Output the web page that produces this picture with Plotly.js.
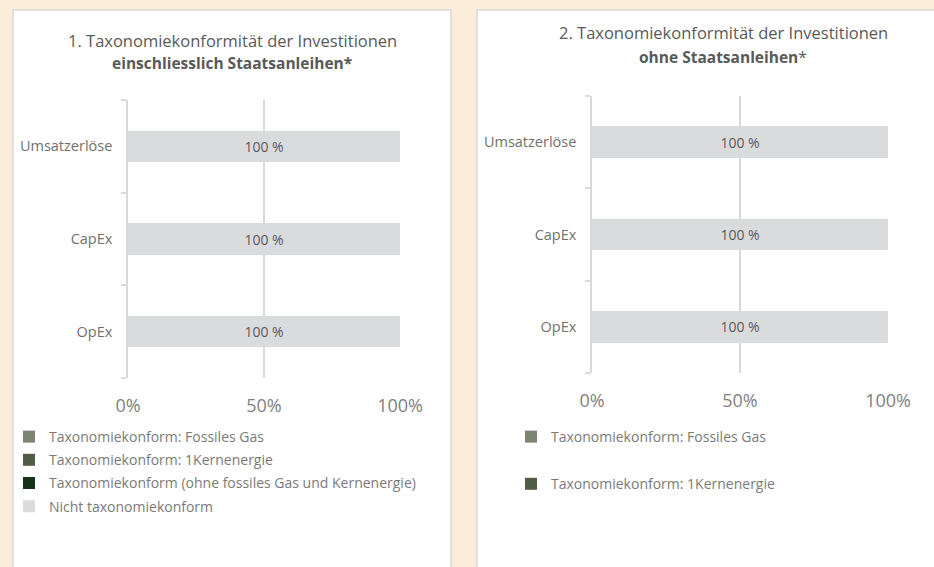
<!DOCTYPE html>
<html>
<head>
<meta charset="utf-8">
<script src="https://cdn.plot.ly/plotly-3.0.1.min.js"></script>
<style>
html,body{margin:0;padding:0;background:#FBEBD9;}
#chart{width:934px;height:567px;}
</style>
</head>
<body>
<div id="chart"></div>
<script>
// ---- data ----
const categories = ['Umsatzerlöse', 'CapEx', 'OpEx'];
const seriesNames = [
  'Taxonomiekonform: Fossiles Gas',
  'Taxonomiekonform: 1Kernenergie',
  'Taxonomiekonform (ohne fossiles Gas und Kernenergie)',
  'Nicht taxonomiekonform'
];
// Chart 1: including sovereign bonds (values in %)
const fossilGas1 = [0, 0, 0];
const nuclear1 = [0, 0, 0];
const aligned1 = [0, 0, 0];
const notAligned1 = [100, 100, 100];
// Chart 2: excluding sovereign bonds (values in %)
const fossilGas2 = [0, 0, 0];
const nuclear2 = [0, 0, 0];
const aligned2 = [0, 0, 0];
const notAligned2 = [100, 100, 100];
const xTickVals = [0, 50, 100];
const xTickText = ['0%', '50%', '100%'];
const title1a = '1. Taxonomiekonformität der Investitionen';
const title1b = 'einschliesslich Staatsanleihen*';
const title2a = '2. Taxonomiekonformität der Investitionen';
const title2b = 'ohne Staatsanleihen';

// ---- styles ----
const colors = ['#7b8571', '#505c46', '#17321b', '#dadbdd'];
const W = 934, H = 567;
const px = v => v / W;
const py = v => 1 - v / H;
const FONT = 'Open Sans, sans-serif';

function makeTraces(vals, xa, ya, legendId, legendShow) {
  return vals.map((v, i) => {
    const isLast = i === vals.length - 1;
    return {
      type: 'bar', orientation: 'h',
      name: seriesNames[i],
      x: v, y: categories,
      xaxis: xa, yaxis: ya,
      marker: {color: colors[i]},
      legend: legendId,
      legendgroup: legendId + '_' + i,
      showlegend: legendShow[i],
      text: isLast ? v.map(String) : undefined,
      texttemplate: isLast ? '%{text} %' : undefined,
      textposition: isLast ? 'inside' : 'none',
      insidetextanchor: 'middle',
      textfont: {family: FONT, size: 14, color: '#595959'},
      hoverinfo: 'name+x'
    };
  });
}

const traces = [
  ...makeTraces([fossilGas1, nuclear1, aligned1, notAligned1], 'x', 'y', 'legend', [true, true, true, true]),
  ...makeTraces([fossilGas2, nuclear2, aligned2, notAligned2], 'x2', 'y2', 'legend2', [true, true, false, false])
];

function xAxis(domain, anchor) {
  return {
    domain: domain, anchor: anchor, range: [0, 100], fixedrange: true,
    tickvals: xTickVals, ticktext: xTickText,
    showgrid: true, gridcolor: '#d9d9d9', gridwidth: 1.5,
    zeroline: false, showline: false, ticks: '',
    ticklabelstandoff: 15,
    tickfont: {family: FONT, size: 18, color: '#7f7f7f'}
  };
}
function yAxis(domain, anchor) {
  return {
    domain: domain, anchor: anchor, type: 'category',
    categoryorder: 'array', categoryarray: categories.slice().reverse(),
    tickson: 'boundaries', ticks: 'outside', ticklen: 5, tickcolor: '#d9d9d9', tickwidth: 1.5,
    showline: true, linecolor: '#d9d9d9', linewidth: 1.5,
    showgrid: false, zeroline: false, fixedrange: true,
    ticklabelstandoff: 11,
    tickfont: {family: FONT, size: 14.5, color: '#707070'}
  };
}

function titleAnn(x, y, text, size) {
  return {xref: 'paper', yref: 'paper', x: px(x), y: py(y), xanchor: 'center', yanchor: 'middle',
          showarrow: false, text: text, font: {family: FONT, size: size, color: '#595959'}};
}

const layout = {
  width: W, height: H,
  margin: {l: 0, r: 0, t: 0, b: 0},
  paper_bgcolor: '#FBEBD9', plot_bgcolor: 'rgba(0,0,0,0)',
  barmode: 'stack', bargap: 0.66,
  xaxis: xAxis([px(128), px(400)], 'y'),
  yaxis: yAxis([py(378), py(100)], 'x'),
  xaxis2: xAxis([px(592), px(888)], 'y2'),
  yaxis2: yAxis([py(373), py(96)], 'x2'),
  shapes: [
    {type: 'rect', xref: 'paper', yref: 'paper', layer: 'below',
     x0: px(13), x1: px(451), y0: -0.05, y1: py(10),
     fillcolor: '#ffffff', line: {color: '#d9d9d9', width: 1.5}},
    {type: 'rect', xref: 'paper', yref: 'paper', layer: 'below',
     x0: px(477), x1: 1.05, y0: -0.05, y1: py(10),
     fillcolor: '#ffffff', line: {color: '#d9d9d9', width: 1.5}}
  ],
  annotations: [
    titleAnn(232, 40, title1a, 16.5),
    titleAnn(232, 63, '<b>' + title1b + '</b>', 15.5),
    titleAnn(723, 33, title2a, 16.5),
    titleAnn(723, 57, '<b>' + title2b + '</b>*', 15.5)
  ],
  legend: {
    x: px(9), y: py(421), xanchor: 'left', yanchor: 'top',
    bgcolor: 'rgba(0,0,0,0)', borderwidth: 0,
    traceorder: 'grouped', tracegroupgap: 2, itemclick: false, itemdoubleclick: false,
    font: {family: FONT, size: 14, color: '#7a7a7a'}
  },
  legend2: {
    x: px(511), y: py(421), xanchor: 'left', yanchor: 'top',
    bgcolor: 'rgba(0,0,0,0)', borderwidth: 0,
    traceorder: 'grouped', tracegroupgap: 26, itemclick: false, itemdoubleclick: false,
    font: {family: FONT, size: 14, color: '#7a7a7a'}
  },
  showlegend: true
};

Plotly.newPlot('chart', traces, layout, {displayModeBar: false});
</script>
</body>
</html>
